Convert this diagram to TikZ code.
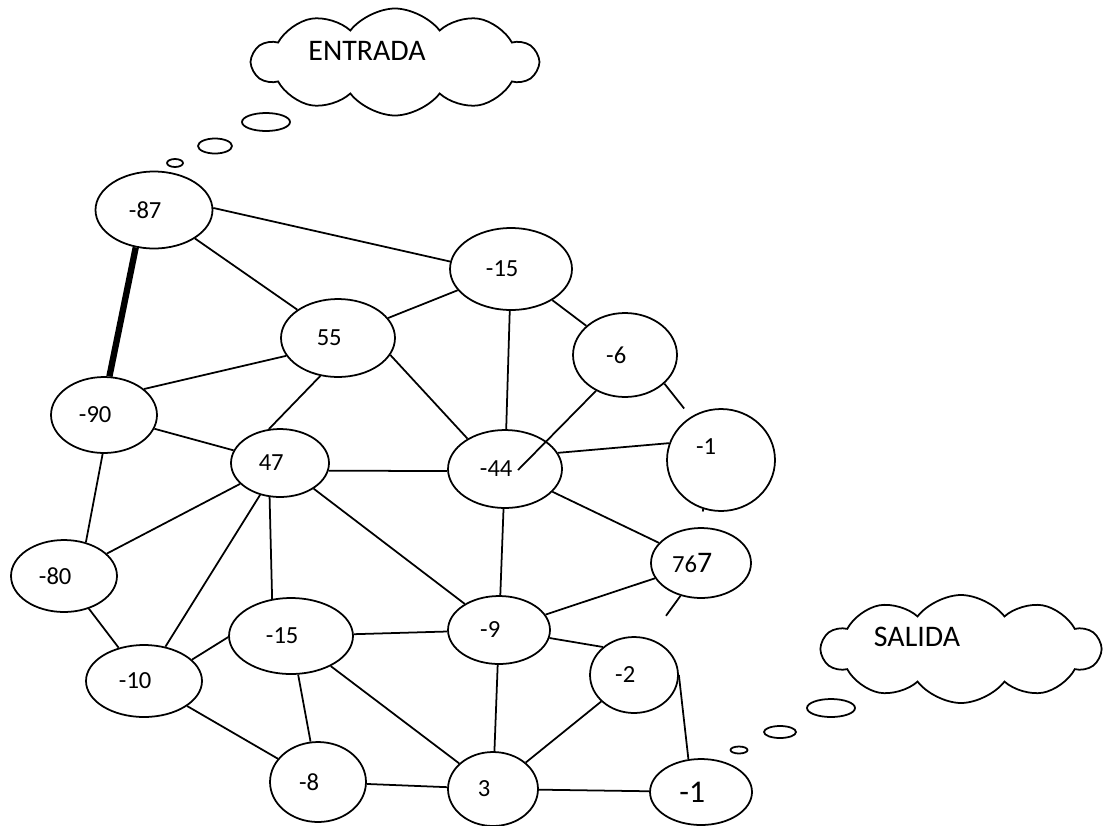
\documentclass[tikz,border=0pt]{standalone}
\usepackage{fontspec}
\setmainfont{Carlito}
\usetikzlibrary{shapes.geometric,shapes.symbols,calc}
\tikzset{
  vert/.style = {
    draw, ellipse,
    line width=1pt,
    inner sep=0pt,
    font=\fontsize{14}{14}\selectfont,
    execute at begin node={\hspace*{-10pt}} % text sits a bit to the left
  },
  vtxt/.style  = {inner sep=0pt, font=\fontsize{14}{14}\selectfont},
  lnk/.style   = {line width=1pt},
  heavy/.style = {line width=3.6pt},
  cl/.style    = {draw, cloud, cloud puffs=10, cloud puff arc=105,
                  cloud ignores aspect, line width=1pt, inner sep=0pt},
  cltxt/.style = {font=\fontsize{17}{17}\selectfont},
  bub/.style   = {line width=1pt}
}

\begin{document}
\begin{tikzpicture}[x=0.02cm, y=-0.02cm]
\useasboundingbox (0,0) rectangle (1104,825);
% thought clouds
\node[cl, minimum width=5.7cm, minimum height=2.14cm] (incl) at (395,62) {};
\node[cltxt] (intxt) at (367,51) {ENTRADA};
\draw[bub] (266,122) ellipse [x radius=24, y radius=9];
\draw[bub] (215,146) ellipse [x radius=17, y radius=7.5];
\draw[bub] (175,163) ellipse [x radius=8, y radius=4];
\node[cl, minimum width=5.56cm, minimum height=2.16cm] (outcl) at (961,649) {};
\node[cltxt] (outtxt) at (917,637) {SALIDA};
\draw[bub] (831,708) ellipse [x radius=24, y radius=9];
\draw[bub] (780,732) ellipse [x radius=16, y radius=6];
\draw[bub] (739,750) ellipse [x radius=8.5, y radius=3.5];
% vertices
\node[vert, minimum width=2.34cm, minimum height=1.54cm] (n87) at (154,210) {-87};
\node[vert, minimum width=2.44cm, minimum height=1.64cm] (n15a) at (511,269) {-15};
\node[vert, minimum width=2.28cm, minimum height=1.56cm] (n55) at (338,338) {55};
\node[vert, minimum width=2.08cm, minimum height=1.68cm] (n6) at (625,355) {-6};
\node[vert, minimum width=2.16cm, minimum height=2.04cm] (n1a) at (721,460) {};
\node[vtxt] (n1atxt) at (706,447) {-1};
\node[vert, minimum width=2.12cm, minimum height=1.52cm] (n90) at (104,415) {-90};
\node[vert, minimum width=1.96cm, minimum height=1.36cm] (n47) at (280,463) {47};
\node[vert, minimum width=2.28cm, minimum height=1.56cm] (n44) at (505,469) {-44};
\node[vert, minimum width=2.12cm, minimum height=1.44cm] (n80) at (64,576) {-80};
\node[vert, minimum width=2.00cm, minimum height=1.40cm] (n767) at (701,563) {76{\fontsize{17}{17}\selectfont 7}};
\node[vert, minimum width=2.48cm, minimum height=1.52cm] (n15b) at (291,636) {-15};
\node[vert, minimum width=2.04cm, minimum height=1.36cm] (n9) at (499,630) {-9};
\node[vert, minimum width=2.32cm, minimum height=1.44cm] (n10) at (144,681) {-10};
\node[vert, minimum width=1.76cm, minimum height=1.52cm] (n2) at (634,675) {-2};
\node[vert, minimum width=1.92cm, minimum height=1.60cm] (n8) at (318,782) {-8};
\node[vert, minimum width=1.80cm, minimum height=1.48cm] (n3) at (493,789) {3};
\node[vert, minimum width=2.04cm, minimum height=1.32cm, font=\fontsize{18}{18}\selectfont] (n1b) at (701,792) {-1};
% edges
\draw[heavy] (n87.244) -- (n90.82);
\draw[lnk] (n87.2) -- (n15a.173);
\draw[lnk] (n87) -- (n55);
\draw[lnk] (n15a) -- (n55);
\draw[lnk] (n15a) -- (n44);
\draw[lnk] (n15a) -- (n6);
\draw[lnk] (n55.199) -- (n90.33);
\draw[lnk] (n55.245) -- (n47.108);
\draw[lnk] (n55.-18) -- (n44.141);
\draw[lnk] (n6.231) -- ($(n44)+(13,1)$);      % runs into -44
\draw[lnk, shorten >=6pt] (n6.-36) -- (n1a.125);  % stops short
\draw[lnk] (n44.17) -- (n1a.162);
\draw[lnk] (n44) -- (n767);
\draw[lnk, shorten >=9pt] (n1a.250) -- (n767.91); % stub only
\draw[lnk] (n767) -- (n9);
\draw[lnk, shorten >=16pt] (n767.238) -- (n2.67); % stub only
\draw[lnk] (n90) -- (n47);
\draw[lnk] (n90.268) -- (n80.57);
\draw[lnk] (n47.-9) -- (n44.182);
\draw[lnk] (n47) -- (n80);
\draw[lnk] (n47) -- (n10);
\draw[lnk] (n47.253) -- (n15b.117);
\draw[lnk] (n47) -- (n9);
\draw[lnk] (n44) -- (n9);
\draw[lnk] (n80) -- (n10);
\draw[lnk] (n10.24) -- (n15b.181);
\draw[lnk] (n10) -- (n8);
\draw[lnk] (n15b) -- (n9);
\draw[lnk] (n15b) -- (n8);
\draw[lnk] (n15b) -- (n3);
\draw[lnk] (n9) -- (n3);
\draw[lnk] (n9.-9) -- (n2.138);
\draw[lnk] (n2) -- (n3);
\draw[lnk] (n2.0) -- (n1b.111);
\draw[lnk] (n8) -- (n3);
\draw[lnk] (n3) -- (n1b);
\end{tikzpicture}
\end{document}
